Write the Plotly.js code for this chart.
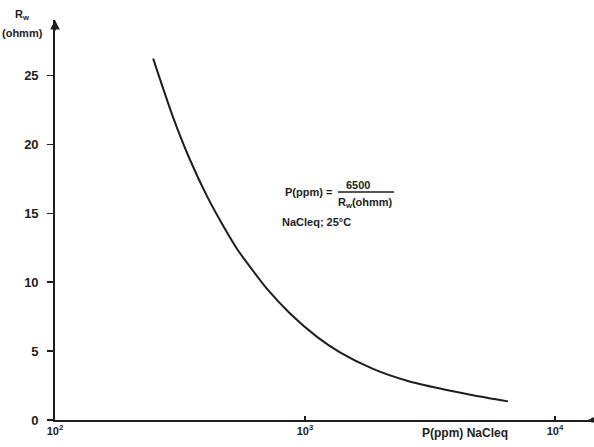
<!DOCTYPE html>
<html>
<head>
<meta charset="utf-8">
<script src="https://cdn.plot.ly/plotly-3.0.1.min.js"></script>
<style>html,body{margin:0;padding:0;background:#fff;}#chart{width:594px;height:447px;}</style>
</head>
<body>
<div id="chart"></div>
<script>
// Curve: salinity P (ppm NaCl eq) vs water resistivity Rw (ohmm)
const pValues = [247, 296, 347, 405, 470, 535, 603, 705, 871, 1117, 1380, 1871, 2559, 3467, 4699, 6486];
const rwValues = [26.2, 22.0, 18.85, 16.25, 14.1, 12.4, 11.1, 9.5, 7.72, 6.03, 4.91, 3.71, 2.85, 2.28, 1.8, 1.35];
const xTickVals = [100, 1000, 10000];
const xTickText = ['10<sup>2</sup>', '10<sup>3</sup>', '10<sup>4</sup>'];
const yTickVals = [0, 5, 10, 15, 20, 25];

const ink = '#1e1e1e';
const family = 'Liberation Sans, Arial, sans-serif';
const f13 = {family: family, size: 13, color: ink, weight: 'bold'};
const f12 = {family: family, size: 12, color: ink, weight: 'bold'};
const f11 = {family: family, size: 11, color: ink, weight: 'bold'};

const trace = {
  x: pValues, y: rwValues, type: 'scatter', mode: 'lines',
  line: {color: ink, width: 2, shape: 'spline', smoothing: 0.7},
  hoverinfo: 'skip'
};

function note(x, y, text, extra) {
  return Object.assign({xref: 'paper', yref: 'paper', x: x, y: y, text: text,
    showarrow: false, xanchor: 'center', yanchor: 'middle', font: f11}, extra || {});
}

const layout = {
  width: 594, height: 447,
  margin: {l: 55, r: 1, t: 20, b: 27},
  paper_bgcolor: '#fff', plot_bgcolor: '#fff',
  showlegend: false,
  font: f12,
  xaxis: {
    type: 'log', range: [2, 4.152],
    tickvals: xTickVals, ticktext: xTickText,
    ticks: 'inside', ticklen: 4, tickwidth: 1.2, tickcolor: ink,
    showline: true, linecolor: ink, linewidth: 1.8,
    showgrid: false, zeroline: false,
    tickfont: f11
  },
  yaxis: {
    range: [0, 29],
    tickvals: yTickVals,
    ticks: 'outside', ticklen: 6, tickwidth: 1.2, tickcolor: ink,
    showline: true, linecolor: ink, linewidth: 1.8,
    showgrid: false, zeroline: false,
    tickfont: f13,
    ticklabelstandoff: 6
  },
  shapes: [
    {type: 'line', xref: 'paper', yref: 'paper', x0: 0.526, x1: 0.63, y0: 0.57, y1: 0.57,
     line: {color: ink, width: 1.3}}
  ],
  annotations: [
    {xref: 'paper', yref: 'paper', x: 0, y: 1, ax: 0, ay: 12, showarrow: true,
     arrowhead: 2, arrowsize: 1.2, arrowwidth: 1.6, arrowcolor: ink, text: ''},
    {xref: 'paper', yref: 'paper', x: 1, y: 0, ax: -6, ay: 0, showarrow: true,
     arrowhead: 6, arrowsize: 0.8, arrowwidth: 1.6, arrowcolor: ink, text: ''},
    note(-0.061, 1.0125, 'R<sub>w</sub>'),
    note(-0.061, 0.9675, '(ohmm)'),
    note(0.762, -0.033, 'P(ppm) NaCleq', {font: f12}),
    note(0.472, 0.57, 'P(ppm) ='),
    note(0.563, 0.5875, '6500'),
    note(0.578, 0.543, 'R<sub>w</sub>(ohmm)'),
    note(0.418, 0.495, 'NaCleq; 25°C', {xanchor: 'left'})
  ]
};

Plotly.newPlot('chart', [trace], layout, {staticPlot: true, displayModeBar: false});
</script>
</body>
</html>
